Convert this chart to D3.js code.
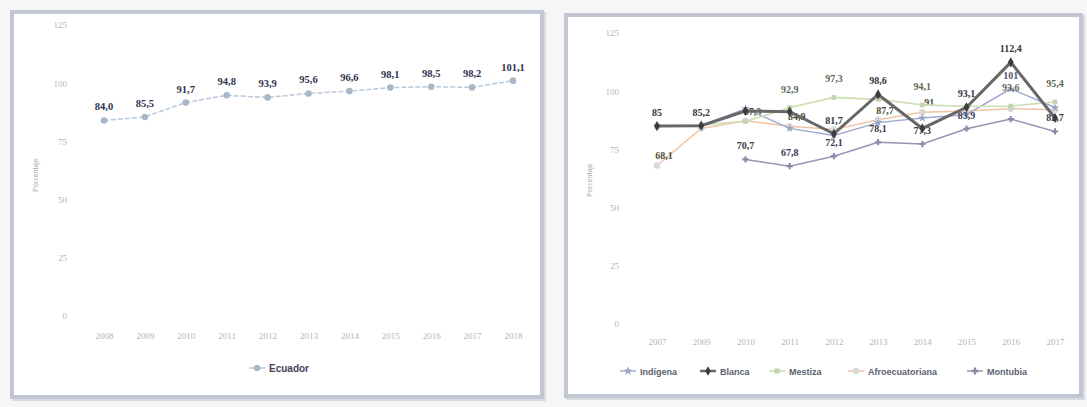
<!DOCTYPE html>
<html><head><meta charset="utf-8">
<script src="https://cdn.jsdelivr.net/npm/d3@7"></script>
<style>
body{margin:0;background:#f6f6f7;}
svg{display:block;}
</style></head>
<body><svg id="c" width="1087" height="407"></svg>
<script>
// ---- data: left chart (Ecuador) ----
const yearsL = ["2008","2009","2010","2011","2012","2013","2014","2015","2016","2017","2018"];
const ecuador = [84.0, 85.5, 91.7, 94.8, 93.9, 95.6, 96.6, 98.1, 98.5, 98.2, 101.1];
// ---- data: right chart (by ethnic group) ----
const yearsR = ["2007","2009","2010","2011","2012","2013","2014","2015","2016","2017"];
const indigena  = [85.0, 85.2, 92.5, 84.0, 81.0, 86.5, 88.5, 90.0, 101.0, 93.0];
const blanca    = [85.0, 85.2, 91.5, 91.2, 81.7, 98.6, 84.0, 93.1, 112.4, 88.5];
const mestiza   = [85.0, 85.5, 87.0, 92.9, 97.3, 96.5, 94.1, 93.5, 93.6, 95.4];
const afro      = [68.1, 84.0, 87.3, 84.9, 83.5, 87.7, 91.0, 91.5, 92.5, 92.0];
const montubia  = [null, null, 70.7, 67.8, 72.1, 78.1, 77.3, 83.9, 88.0, 82.7];
// which points carry a data label (1 = shown)
const lblIndigena = [0,0,0,0,0,0,0,0,1,0];
const lblBlanca   = [1,1,0,0,1,1,0,1,1,0];
const lblMestiza  = [0,0,0,1,1,0,1,0,1,1];
const lblAfro     = [1,0,1,1,0,1,1,0,0,0];
const lblMontubia = [0,0,1,1,1,1,1,1,0,1];
const yTicks = [0, 25, 50, 75, 100, 125];

const svg = d3.select("#c");
const fmt1 = d3.format(".1f");
const comma = s => s.replace(".", ",");
const fmtL = v => comma(fmt1(v));
const fmtR = v => comma(String(v));

// ---------- panels ----------
function panel(x, y, w, h){
  svg.append("rect").attr("x",x+2).attr("y",y+2).attr("width",w).attr("height",h)
    .attr("fill","none").attr("stroke","#d9dbe2").attr("stroke-width",4);
  svg.append("rect").attr("x",x).attr("y",y).attr("width",w).attr("height",h)
    .attr("fill","#ffffff").attr("stroke","#c2c6d3").attr("stroke-width",4);
}
panel(12, 12, 530, 385);
panel(566, 15, 515, 381);

const symbols = {diamond:d3.symbolDiamond,square:d3.symbolSquare,cross:d3.symbolCross,star:d3.symbolStar};

// ---------- generic chart ----------
function drawChart(cfg){
  const x = d3.scalePoint().domain(cfg.years).range(cfg.xr);
  const y = d3.scaleLinear().domain([0,125]).range(cfg.yr);
  const g = svg.append("g");
  // y axis
  const ya = g.append("g").attr("transform",`translate(${cfg.yAxisX},0)`)
    .call(d3.axisLeft(y).tickValues(yTicks).tickSize(0).tickPadding(0));
  ya.select(".domain").remove();
  ya.selectAll("text").attr("fill","#b4b4b8").attr("font-size",9)
    .attr("font-family","Liberation Serif, serif");
  // x axis
  const xa = g.append("g").attr("transform",`translate(0,${cfg.xAxisY})`)
    .call(d3.axisBottom(x).tickSize(0).tickPadding(0));
  xa.select(".domain").remove();
  xa.selectAll("text").attr("fill","#b4b4b8").attr("font-size",9)
    .attr("font-family","Liberation Serif, serif");
  // y title
  g.append("text").attr("transform",`translate(${cfg.titleX},${cfg.titleY}) rotate(-90)`)
    .attr("text-anchor","middle").attr("font-size",7).attr("fill","#a8a8b0")
    .attr("font-family","Liberation Sans, sans-serif").text("Porcentaje");
  // series
  cfg.series.forEach(s=>{
    const pts = cfg.years.map((yr,i)=>({yr, v:s.values[i], lab:s.labels ? s.labels[i] : 1}))
      .filter(d=>d.v!=null);
    const line = d3.line().x(d=>x(d.yr)).y(d=>y(d.v));
    g.append("path").datum(pts).attr("d",line).attr("fill","none")
      .attr("stroke",s.color).attr("stroke-width",s.width)
      .attr("stroke-dasharray",s.dash||null);
    pts.forEach(d=>{
      const cx=x(d.yr), cy=y(d.v);
      if(s.marker==="circle"){
        g.append("circle").attr("cx",cx).attr("cy",cy).attr("r",3.3).attr("fill",s.markerColor||s.color);
      } else if(s.marker){
        g.append("path").attr("d",d3.symbol(symbols[s.marker], s.marker==="diamond"?30:22)())
          .attr("transform",`translate(${cx},${cy})`).attr("fill",s.markerColor||s.color);
      }
    });
    pts.filter(d=>d.lab).forEach(d=>{
      g.append("text").attr("x",x(d.yr)+(s.labelDx||0)).attr("y",y(d.v)+(s.labelDy!=null?s.labelDy:-cfg.labelOff))
        .attr("text-anchor","middle").attr("font-size",cfg.labelSize).attr("font-weight","bold")
        .attr("font-family","Liberation Serif, serif").attr("fill",s.labelColor)
        .text(cfg.fmt(d.v));
    });
  });
  // legend
  cfg.legend.forEach(l=>{
    const s = cfg.series.find(q=>q.name===l.name);
    g.append("line").attr("x1",l.x-8).attr("x2",l.x+8).attr("y1",cfg.legendY).attr("y2",cfg.legendY)
      .attr("stroke",s.color).attr("stroke-width",Math.min(s.width,2.5));
    if(s.marker==="circle") g.append("circle").attr("cx",l.x).attr("cy",cfg.legendY).attr("r",3.3).attr("fill",s.markerColor||s.color);
    else if(s.marker) g.append("path").attr("d",d3.symbol(symbols[s.marker],26)())
      .attr("transform",`translate(${l.x},${cfg.legendY})`).attr("fill",s.markerColor||s.color);
    g.append("text").attr("x",l.x+12).attr("y",cfg.legendY+3.5).attr("font-size",cfg.legendSize)
      .attr("font-weight","bold").attr("font-family","Liberation Sans, sans-serif")
      .attr("fill",l.textColor||"#5c5f70").text(l.name);
  });
}

drawChart({
  years: yearsL, xr:[104,513], yr:[316,25], yAxisX:67, xAxisY:333,
  titleX:38, titleY:175, labelOff:10, labelSize:10.5, fmt:fmtL,
  series:[{name:"Ecuador", values:ecuador, color:"#b9c9d8", width:1.5, dash:"5,2",
           marker:"circle", markerColor:"#a7b8c9", labelColor:"#2f3350"}],
  legend:[{name:"Ecuador", x:257, textColor:"#3f4258"}], legendY:368, legendSize:10
});

drawChart({
  years: yearsR, xr:[657,1055], yr:[324,33], yAxisX:619, xAxisY:339,
  titleX:592, titleY:180, labelOff:10, labelSize:10, fmt:fmtR,
  series:[
    {name:"Afroecuatoriana", values:afro, labels:lblAfro, color:"#efc3a4", width:1.5, marker:"circle", markerColor:"#d8d8d8", labelColor:"#4a4d3a", labelDx:7, labelDy:-6},
    {name:"Indígena", values:indigena, labels:lblIndigena, color:"#9ea9d0", width:1.4, marker:"star", markerColor:"#9aa3c4", labelColor:"#55586a"},
    {name:"Mestiza", values:mestiza, labels:lblMestiza, color:"#cfe0b8", width:1.8, marker:"square", markerColor:"#c3d3ad", labelColor:"#5f6a55", labelDy:-15},
    {name:"Montubia", values:montubia, labels:lblMontubia, color:"#9a94b4", width:1.5, marker:"cross", markerColor:"#8d87a8", labelColor:"#3c3a4e"},
    {name:"Blanca", values:blanca, labels:lblBlanca, color:"#676767", width:3, marker:"diamond", markerColor:"#3c3c3c", labelColor:"#34343c"}
  ],
  legend:[{name:"Indígena",x:628},{name:"Blanca",x:708},{name:"Mestiza",x:777},
          {name:"Afroecuatoriana",x:856},{name:"Montubia",x:975}],
  legendY:371, legendSize:9
});
</script></body></html>
